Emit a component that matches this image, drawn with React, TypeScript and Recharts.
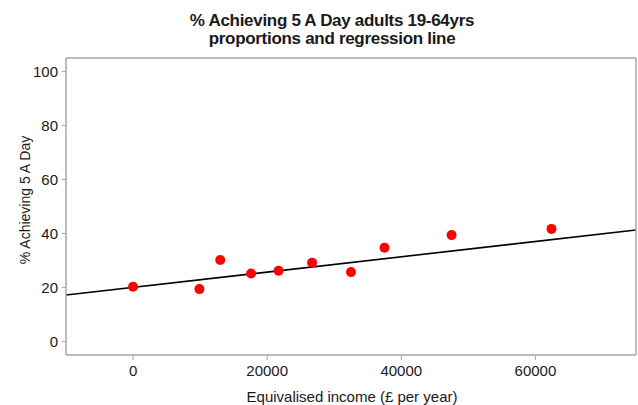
import { ComposedChart, Scatter, Line, XAxis, YAxis } from 'recharts'

// observed proportions by equivalised income group
const incomeValues = [0, 9900, 13000, 17600, 21700, 26700, 32500, 37500, 47500, 62400]
const pctValues = [20.3, 19.4, 30.2, 25.2, 26.2, 29.2, 25.7, 34.7, 39.4, 41.7]

// fitted regression line, read at the ends of the x range
const lineIncome = [-10000, 75000]
const linePct = [17.2, 41.3]

const xTicks = [0, 20000, 40000, 60000]
const yTicks = [0, 20, 40, 60, 80, 100]

const points = incomeValues.map((x, i) => ({ x, y: pctValues[i] }))
const regLine = lineIncome.map((x, i) => ({ x, y: linePct[i] }))

const FONT = '"Liberation Sans", Arial, sans-serif'
const FRAME = '#a6a6a6'

const tickStyle = { fontSize: 15, fill: '#1a1a1a', fontFamily: FONT }

export default function App() {
  return (
    <div style={{ position: 'absolute', left: 0, top: 0, width: 638, height: 405, background: '#fff', fontFamily: FONT }}>
      <div
        style={{
          position: 'absolute',
          left: 132,
          width: 400,
          top: 12,
          textAlign: 'center',
          fontWeight: 700,
          fontSize: 17,
          letterSpacing: '-0.3px',
          lineHeight: '18px',
          color: '#1a1a1a',
        }}
      >
        % Achieving 5 A Day adults 19-64yrs
        <br />
        proportions and regression line
      </div>
      <div
        style={{
          position: 'absolute',
          left: 25,
          top: 200,
          transform: 'translate(-50%, -50%) rotate(-90deg)',
          whiteSpace: 'nowrap',
          fontSize: 14,
          color: '#1a1a1a',
        }}
      >
        % Achieving 5 A Day
      </div>
      <div
        style={{
          position: 'absolute',
          left: 152,
          width: 400,
          top: 388,
          textAlign: 'center',
          fontSize: 15,
          lineHeight: '18px',
          color: '#1a1a1a',
        }}
      >
        Equivalised income (£ per year)
      </div>
      <ComposedChart width={638} height={405} margin={{ top: 53, right: 0, bottom: 0, left: 0 }}>
        <XAxis
          xAxisId="bottom"
          dataKey="x"
          type="number"
          domain={[-10000, 75000]}
          ticks={xTicks}
          allowDataOverflow
          height={50}
          tick={tickStyle}
          tickSize={5}
          tickMargin={5}
          axisLine={{ stroke: FRAME, strokeWidth: 1.5 }}
          tickLine={{ stroke: FRAME }}
        />
        <XAxis
          xAxisId="top"
          orientation="top"
          dataKey="x"
          type="number"
          domain={[-10000, 75000]}
          ticks={xTicks}
          allowDataOverflow
          height={5}
          tick={false}
          tickSize={4}
          axisLine={{ stroke: FRAME, strokeWidth: 1.5 }}
          tickLine={{ stroke: FRAME }}
        />
        <YAxis
          yAxisId="left"
          type="number"
          domain={[-5, 105]}
          ticks={yTicks}
          allowDataOverflow
          width={66}
          tick={tickStyle}
          tickSize={4}
          tickMargin={4}
          axisLine={{ stroke: FRAME, strokeWidth: 1.5 }}
          tickLine={{ stroke: FRAME }}
        />
        <YAxis
          yAxisId="right"
          orientation="right"
          type="number"
          domain={[-5, 105]}
          ticks={yTicks}
          allowDataOverflow
          width={2}
          tick={false}
          tickSize={4}
          axisLine={{ stroke: FRAME, strokeWidth: 1.5 }}
          tickLine={{ stroke: FRAME }}
        />
        <Line
          xAxisId="bottom"
          yAxisId="left"
          data={regLine}
          dataKey="y"
          type="linear"
          stroke="#000"
          strokeWidth={1.6}
          dot={false}
          activeDot={false}
          isAnimationActive={false}
        />
        <Scatter
          xAxisId="bottom"
          yAxisId="left"
          data={points}
          dataKey="y"
          fill="#ff0000"
          shape={(p: any) => <circle cx={p.cx} cy={p.cy} r={5} fill="#ff0000" />}
          isAnimationActive={false}
        />
      </ComposedChart>
    </div>
  )
}
